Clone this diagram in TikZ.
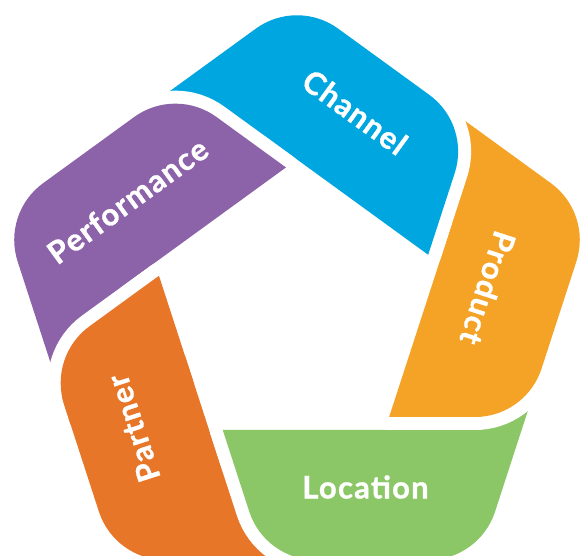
\documentclass[tikz,border=0pt]{standalone}
\usepackage{fontspec}
\setmainfont{Lato}
\newfontfamily\segfont{Lato}[BoldFeatures={FakeBold=1,LetterSpace=4}]
\usepackage{xcolor}
\tikzset{>=stealth}

\definecolor{channelblue}{HTML}{00A6DF}
\definecolor{productorange}{HTML}{F5A327}
\definecolor{locationgreen}{HTML}{8BC766}
\definecolor{partnerorange}{HTML}{E87629}
\definecolor{performancepurple}{HTML}{8C62A8}

% one segment of the ring, drawn for the bottom side; the others are rotated copies
\newcommand{\segpath}{(-74.24,-121) -- (130,-121) -- (237.92,-80) -- (198.08,-202.63)
  arc[start angle=-18, end angle=-90, radius=70] -- (18.86,-251)
  arc[start angle=-90, end angle=-162, radius=70] -- cycle}

\tikzset{
  seggap/.style={draw=white, line width=26pt, line join=round},
  seg/.style={fill=#1, preaction={seggap}},
  seglabel/.style={text=white, font=\segfont\fontsize{31}{36}\selectfont\bfseries, inner sep=0pt}
}

\begin{document}
\begin{tikzpicture}[x=1pt, y=1pt]
\useasboundingbox (-297,-247) rectangle (289,309);

% segments, each one laid over the tail of the next
\begin{scope}[rotate=288]
\path[seg=partnerorange] \segpath;
\end{scope}
\path[seg=locationgreen] \segpath;
\begin{scope}[rotate=72]
\path[seg=productorange] \segpath;
\end{scope}
\begin{scope}[rotate=144]
\path[seg=channelblue] \segpath;
\end{scope}
\begin{scope}[rotate=216]
\path[seg=performancepurple] \segpath;
\end{scope}
% head of the last one again, over the first
\begin{scope}[rotate=288]
\begin{scope}
\clip (-160,-300) rectangle (10,-95);
\path[seggap] \segpath;
\end{scope}
\clip (-160,-300) rectangle (40,-95);
\fill[partnerorange] \segpath;
\end{scope}

% labels
\node[seglabel] (location) at (68.5,-178) {Location};
\node[seglabel, rotate=-108] (product) at (191,21) {Product};
\node[seglabel, rotate=-36] (channel) at (58,197) {Channel};
\node[seglabel, rotate=36] (performance) at (-169.5,108.2) {Performance};
\node[seglabel, rotate=108] (partner) at (-163.7,-119.3) {Partner};
\end{tikzpicture}
\end{document}
